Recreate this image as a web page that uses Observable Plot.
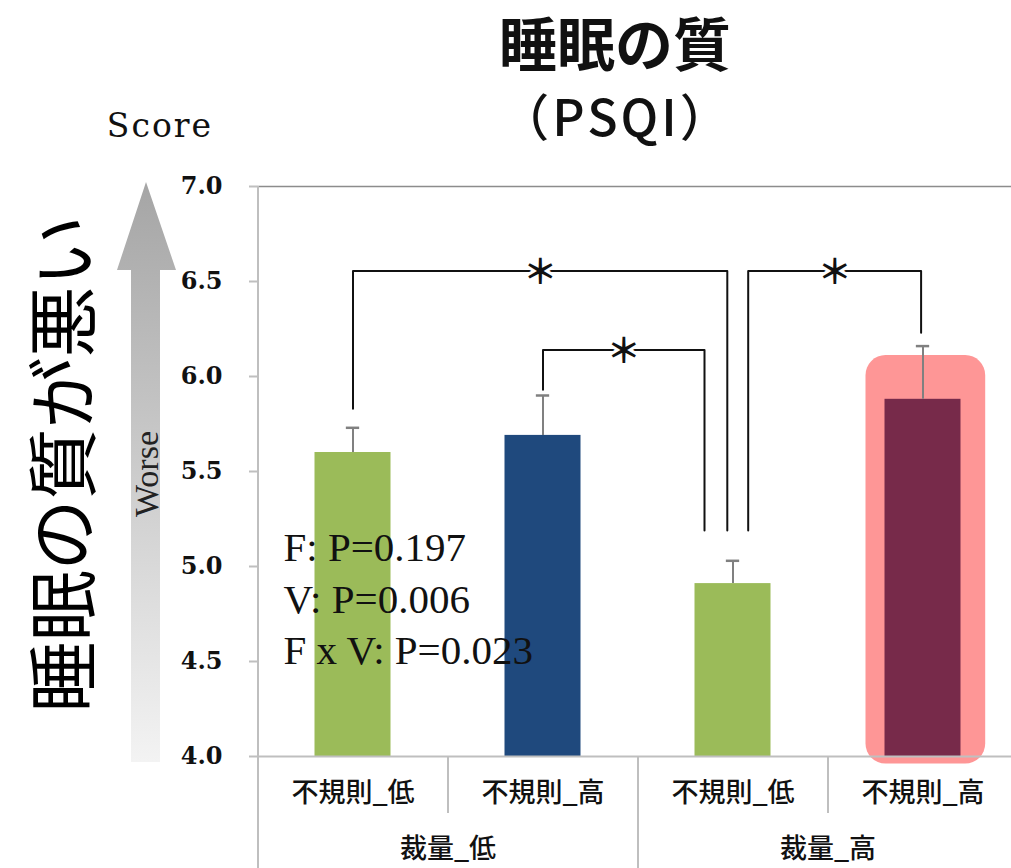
<!DOCTYPE html>
<html><head><meta charset="utf-8">
<script src="https://cdn.jsdelivr.net/npm/d3@7"></script>
<script src="https://cdn.jsdelivr.net/npm/@observablehq/plot@0.6"></script>
<style>
body{margin:0;background:#fff;}
#wrap{position:relative;width:1011px;height:868px;overflow:hidden;background:#fff}
</style>
</head><body><div id="wrap"></div>
<script>
// ---- data ----
const categories = ["不規則_低", "不規則_高", "不規則_低", "不規則_高"];
const groups = ["裁量_低", "裁量_高"];
const means = [5.60, 5.69, 4.91, 5.88];
const errs = [0.13, 0.21, 0.12, 0.28];
const barColors = ["#9bbb59", "#1f497d", "#9bbb59", "#772a4a"];
const yTicks = [4.0, 4.5, 5.0, 5.5, 6.0, 6.5, 7.0];
const stats = ["F: P=0.197", "V: P=0.006", "F x V: P=0.023"];
// significance brackets (x in category units, y in score units)
const bracketFrom = [0.50, 1.50, 2.58];
const bracketTo = [2.47, 2.35, 3.49];
const bracketLeftFoot = [5.83, 5.93, 5.19];
const bracketTop = [6.555, 6.14, 6.555];
const bracketRightFoot = [5.19, 5.19, 6.23];
const bracketLabel = ["＊", "＊", "＊"];
// highlighted bar
const highlightIndex = [3];
const highlightTop = [6.11];
const highlightBottom = [3.96];
const title = "睡眠の質";
const subtitle = "（PSQI）";
const yLabel = "Score";
const sideLabel = "睡眠の質が悪い";
const arrowLabel = "Worse";

// ---- tables ----
const bars = means.map((m, i) => ({i, mean: m, err: m + errs[i], color: barColors[i]}));
const brackets = bracketFrom.map((x1, k) => ({
  k, x1, x2: bracketTo[k], top: bracketTop[k], label: bracketLabel[k],
  pts: [[x1, bracketLeftFoot[k]], [x1, bracketTop[k]], [bracketTo[k], bracketTop[k]], [bracketTo[k], bracketRightFoot[k]]]
}));
const bracketPts = brackets.flatMap(b => b.pts.map(([x, y]) => ({k: b.k, x, y})));
const highlights = highlightIndex.map((i, j) => ({i, top: highlightTop[j], bottom: highlightBottom[j]}));

const serif = "'Liberation Serif', 'Noto Sans CJK JP', serif";
const cjk = "'Noto Sans CJK JP', sans-serif";

const plot = Plot.plot({
  width: 1011, height: 868,
  marginTop: 186, marginBottom: 112, marginLeft: 258, marginRight: 0,
  style: {background: "white", overflow: "visible"},
  x: {domain: [0, 4], range: [257.5, 1017.5]},
  y: {domain: [4, 7], range: [756, 186]},
  marks: [
    // highlight
    Plot.rect(highlights, {x1: d => d.i + 0.2, x2: d => d.i + 0.83, y1: "bottom", y2: "top", fill: "#fe9696", rx: 20}),
    // bars
    Plot.rect(bars, {x1: d => d.i + 0.3, x2: d => d.i + 0.7, y1: 4, y2: "mean", fill: "color"}),
    // error bars
    Plot.ruleX(bars, {x: d => d.i + 0.5, y1: "mean", y2: "err", stroke: "#808080", strokeWidth: 2}),
    Plot.ruleY(bars, {y: "err", x1: d => d.i + 0.465, x2: d => d.i + 0.535, stroke: "#808080", strokeWidth: 2.5}),
    // axes lines
    Plot.ruleY([7], {stroke: "#8c8c8c", strokeWidth: 1.5}),
    Plot.ruleY([4], {stroke: "#bfbfbf", strokeWidth: 2}),
    Plot.ruleX([0], {stroke: "#bfbfbf", strokeWidth: 2}),
    Plot.axisY({ticks: yTicks, tickSize: 9, tickPadding: 27, tickFormat: d3.format(".1f"),
      stroke: "#bfbfbf", strokeWidth: 2, fontSize: 24, fontWeight: "bold", fontFamily: "'DejaVu Serif', serif", fill: "#111", label: null}),
    Plot.axisX({ticks: [0, 2], tickSize: 112, tickFormat: () => "", stroke: "#bfbfbf", strokeWidth: 2, label: null}),
    Plot.axisX({ticks: [1, 3], tickSize: 57, tickFormat: () => "", stroke: "#bfbfbf", strokeWidth: 2, label: null}),
    Plot.axisX({ticks: [0.5, 1.5, 2.5, 3.5], tickSize: 0, tickPadding: 26, tickFormat: d => categories[Math.floor(d)],
      fontSize: 27, fontFamily: cjk, fontWeight: 500, fill: "#111", label: null}),
    Plot.axisX({ticks: [1, 3], tickSize: 0, tickPadding: 82, tickFormat: d => groups[Math.floor(d / 2)],
      fontSize: 27, fontFamily: cjk, fontWeight: 500, fill: "#111", label: null}),
    // brackets
    Plot.line(bracketPts, {x: "x", y: "y", z: "k", stroke: "#111", strokeWidth: 2}),
    Plot.text(brackets, {x: d => (d.x1 + d.x2) / 2, y: "top", text: "label", fontSize: 34, fontFamily: cjk, fontWeight: "bold",
      fill: "#111", stroke: "white", strokeWidth: 6, dy: 2}),
    // statistics
    Plot.text([stats.join("\n")], {frameAnchor: "top-left", dx: 25, dy: 338, lineAnchor: "top", lineHeight: 1.26,
      fontSize: 41, fontFamily: serif, fill: "#111", text: d => d})
  ]
});

const wrap = document.getElementById("wrap");
wrap.appendChild(plot);
const svg = d3.select(plot);

// decorations outside plot frame
const defs = svg.append("defs");
const grad = defs.append("linearGradient").attr("id", "arrowGrad").attr("x1", 0).attr("y1", 0).attr("x2", 0).attr("y2", 1);
grad.append("stop").attr("offset", "0%").attr("stop-color", "#a5a5a5");
grad.append("stop").attr("offset", "100%").attr("stop-color", "#f3f3f3");
const deco = svg.append("g");
deco.append("path")
  .attr("d", "M146,182 L176,270 L160,270 L160,762 L131,762 L131,270 L117,270 Z")
  .attr("fill", "url(#arrowGrad)");

deco.append("text").attr("x", 146).attr("y", 474).attr("transform", "rotate(-90,146,474)")
  .attr("text-anchor", "middle").attr("dominant-baseline", "central")
  .attr("font-family", serif).attr("font-size", 34).attr("fill", "#222").text(arrowLabel);

deco.append("text").attr("x", 58).attr("y", 464).attr("transform", "rotate(-90,58,464)")
  .attr("text-anchor", "middle").attr("dominant-baseline", "central")
  .attr("font-family", cjk).attr("font-size", 71).attr("fill", "#000").text(sideLabel);

deco.append("text").attr("x", 160).attr("y", 137).attr("text-anchor", "middle")
  .attr("font-family", "'DejaVu Serif', serif").attr("font-size", 33).attr("letter-spacing", 2).attr("fill", "#111").text(yLabel);

deco.append("text").attr("x", 615).attr("y", 66).attr("text-anchor", "middle")
  .attr("font-family", cjk).attr("font-size", 58).attr("font-weight", 700).attr("fill", "#111").text(title);

deco.append("text").attr("x", 616).attr("y", 136).attr("text-anchor", "middle")
  .attr("font-family", cjk).attr("font-size", 50).attr("font-weight", 500).attr("letter-spacing", 3).attr("fill", "#111")
  .text(subtitle);
</script>
</body></html>
